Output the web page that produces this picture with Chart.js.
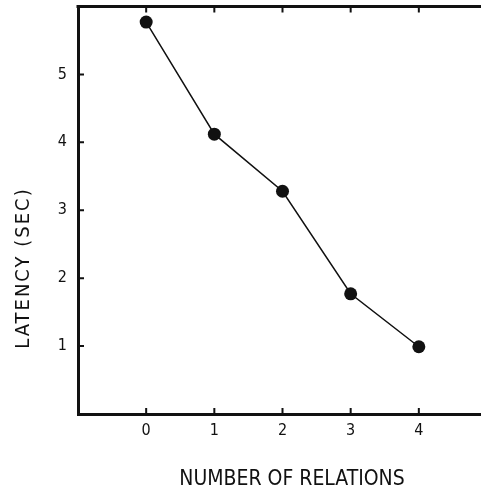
<!DOCTYPE html>
<html>
<head>
<meta charset="utf-8">
<script src="https://cdn.jsdelivr.net/npm/chart.js@4"></script>
<style>
  html, body { margin:0; padding:0; background:#fff; overflow:hidden; }
  #wrap { width:495px; height:489px; }
</style>
</head>
<body>
<div id="wrap"><canvas id="chart" width="495" height="489"></canvas></div>
<script>
// data
const relations = [0, 1, 2, 3, 4];
const latency   = [5.77, 4.12, 3.28, 1.77, 0.99];
const xTicks    = [0, 1, 2, 3, 4];
const yTicks    = [1, 2, 3, 4, 5];
const xTitle    = 'NUMBER OF RELATIONS';
const yTitle    = 'LATENCY (SEC)';

const FONT = "'DejaVu Sans Condensed', 'DejaVu Sans', sans-serif";
const INK = '#111';

// top/right frame, inward ticks, axis titles
const framePlugin = {
  id: 'frame',
  afterDraw(chart) {
    const { ctx, chartArea: a, scales: { x, y } } = chart;
    ctx.save();
    ctx.strokeStyle = INK;
    ctx.lineWidth = 3;
    ctx.beginPath();
    ctx.moveTo(a.left - 1.5, a.top); ctx.lineTo(a.right, a.top);
    ctx.moveTo(a.right, a.top); ctx.lineTo(a.right, a.bottom);
    ctx.stroke();

    ctx.lineWidth = 2;
    ctx.beginPath();
    for (let v = -1; v <= 5; v++) {
      const px = x.getPixelForValue(v);
      ctx.moveTo(px, a.bottom); ctx.lineTo(px, a.bottom - 6);
      ctx.moveTo(px, a.top); ctx.lineTo(px, a.top + 6);
    }
    for (let v = 0; v <= 6; v++) {
      const py = y.getPixelForValue(v);
      ctx.moveTo(a.left, py); ctx.lineTo(a.left + 6, py);
      ctx.moveTo(a.right, py); ctx.lineTo(a.right - 6, py);
    }
    ctx.stroke();

    ctx.fillStyle = INK;
    ctx.font = `21px ${FONT}`;
    ctx.textAlign = 'center';
    ctx.textBaseline = 'alphabetic';
    ctx.fillText(xTitle, 292, 485);

    ctx.font = `20px ${FONT}`;
    ctx.translate(29, 268);
    ctx.rotate(-Math.PI / 2);
    ctx.letterSpacing = '2px';
    ctx.fillText(yTitle, 0, 0);
    ctx.restore();
  }
};

new Chart(document.getElementById('chart'), {
  type: 'line',
  data: {
    datasets: [{
      data: relations.map((r, i) => ({ x: r, y: latency[i] })),
      borderColor: INK,
      borderWidth: 1.5,
      backgroundColor: INK,
      pointBackgroundColor: INK,
      pointBorderColor: INK,
      pointRadius: 6.5,
      pointBorderWidth: 0,
      tension: 0,
      fill: false
    }]
  },
  options: {
    responsive: false,
    animation: false,
    layout: { padding: { top: 5, right: 8, left: 0, bottom: 0 } },
    plugins: { legend: { display: false }, tooltip: { enabled: false } },
    scales: {
      x: {
        type: 'linear',
        min: -1, max: 5,
        afterFit(s) { s.height = 75; s.paddingLeft = 0; s.paddingRight = 0; },
        afterBuildTicks(s) { s.ticks = xTicks.map(v => ({ value: v })); },
        grid: { display: false, drawTicks: false },
        border: { display: true, color: INK, width: 3 },
        ticks: { color: INK, padding: 7, font: { family: FONT, size: 16 } }
      },
      y: {
        type: 'linear',
        min: 0, max: 6,
        afterFit(s) { s.width = 78; s.paddingTop = 0; s.paddingBottom = 0; },
        afterBuildTicks(s) { s.ticks = yTicks.map(v => ({ value: v })); },
        grid: { display: false, drawTicks: false },
        border: { display: true, color: INK, width: 3 },
        ticks: { color: INK, padding: 11, font: { family: FONT, size: 16 } }
      }
    }
  },
  plugins: [framePlugin]
});
</script>
</body>
</html>
